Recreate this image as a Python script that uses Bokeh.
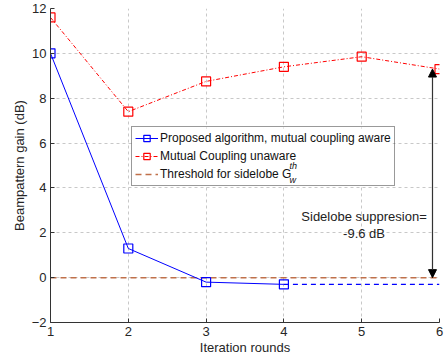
from bokeh.plotting import figure
from bokeh.models import Legend, LegendItem, Label, Arrow, NormalHead, FixedTicker, BoxAnnotation
from bokeh.embed import file_html
from bokeh.resources import INLINE

iterations = [1, 2, 3, 4, 5, 6]
proposed_x = [1, 2, 3, 4]
proposed_y = [10.0, 1.3, -0.2, -0.3]
ext_x = [4, 6]
ext_y = [-0.3, -0.3]
unaware_y = [11.6, 7.4, 8.75, 9.4, 9.85, 9.3]
thr_x = [1, 6]
thr_y = [0, 0]
x_ticks = [1, 2, 3, 4, 5, 6]
y_ticks = [-2, 0, 2, 4, 6, 8, 10, 12]

FONT = "Liberation Sans"
BLUE = "#0000ff"
RED = "#ff0000"
BROWN = "#c0704a"

p = figure(width=444, height=358, output_backend="svg", toolbar_location=None,
           x_range=(1, 6), y_range=(-2, 12),
           min_border_left=50, min_border_right=5, min_border_top=8, min_border_bottom=36)
p.outline_line_color = None
p.background_fill_color = "white"

for ax in (p.xaxis[0], p.yaxis[0]):
    ax.major_tick_in = 4
    ax.major_tick_out = 0
    ax.minor_tick_line_color = None
    ax.major_label_text_font = FONT
    ax.major_label_text_font_size = "13px"
    ax.major_label_text_color = "#262626"
    ax.axis_line_color = "#333333"
    ax.major_tick_line_color = "#333333"
    ax.axis_label_text_font = FONT
    ax.axis_label_text_font_size = "13px"
    ax.axis_label_text_font_style = "normal"
    ax.axis_label_text_color = "#262626"

p.xaxis.ticker = FixedTicker(ticks=x_ticks)
p.yaxis.ticker = FixedTicker(ticks=y_ticks)
p.xaxis.axis_label = "Iteration rounds"
p.yaxis.axis_label = "Beampattern gain (dB)"
p.xaxis.major_label_standoff = 4
p.xaxis.axis_label_standoff = 1
p.yaxis.major_label_standoff = 4
p.yaxis.axis_label_standoff = 2

p.xgrid.grid_line_color = "#c8c8c8"
p.ygrid.grid_line_color = "#c8c8c8"
p.xgrid.grid_line_dash = "3 3"
p.ygrid.grid_line_dash = "3 3"

thr = p.line(thr_x, thr_y, line_color=BROWN, line_width=1.5, line_dash="6 4")
b_line = p.line(proposed_x, proposed_y, line_color=BLUE, line_width=1)
b_ext = p.line(ext_x, ext_y, line_color=BLUE, line_width=1.2, line_dash="5 4")
b_mark = p.scatter(proposed_x, proposed_y, marker="square", size=9,
                   fill_color=None, line_color=BLUE, line_width=1.2)
r_line = p.line(iterations, unaware_y, line_color=RED, line_width=1, line_dash="4 2 1 2")
r_mark = p.scatter(iterations, unaware_y, marker="square", size=9,
                   fill_color=None, line_color=RED, line_width=1.2)

arrow = Arrow(x_start=5.91, y_start=0, x_end=5.91, y_end=9.3,
              start=NormalHead(size=8, fill_color="black", line_color="black"),
              end=NormalHead(size=8, fill_color="black", line_color="black"),
              line_color="#333333", line_width=1.2)
p.add_layout(arrow)

for txt, yv in (("Sidelobe suppresion=", 2.73), ("-9.6 dB", 1.96)):
    p.add_layout(Label(x=5.03, y=yv, text=txt, text_align="center", text_baseline="middle",
                       text_font=FONT, text_font_size="13px", text_color="#222222"))

# white backdrop behind the (transparent) legend so the sub/superscript can sit on top
p.add_layout(BoxAnnotation(left=82, right=342, bottom=137, top=194,
                           left_units="screen", right_units="screen",
                           bottom_units="screen", top_units="screen",
                           fill_color="white", fill_alpha=1, line_color=None,
                           level="annotation"))

legend = Legend(items=[
    LegendItem(label="Proposed algorithm, mutual coupling aware", renderers=[b_line, b_mark]),
    LegendItem(label="Mutual Coupling unaware", renderers=[r_line, r_mark]),
    LegendItem(label="Threshold for sidelobe G", renderers=[thr]),
], location=(81, 136))
legend.label_text_font = FONT
legend.label_text_font_size = "12px"
legend.label_text_color = "#111111"
legend.glyph_width = 23
legend.glyph_height = 16
legend.label_height = 16
legend.spacing = 2
legend.padding = 3
legend.margin = 0
legend.label_standoff = 2
legend.border_line_color = "#333333"
legend.border_line_width = 1
legend.background_fill_alpha = 0
p.add_layout(legend)

p.add_layout(Label(x=239, y=157, x_units="screen", y_units="screen", text="th",
                   text_baseline="middle",
                   text_font=FONT, text_font_size="9px", text_font_style="italic",
                   text_color="#111111"))
p.add_layout(Label(x=239, y=143, x_units="screen", y_units="screen", text="w",
                   text_baseline="middle",
                   text_font=FONT, text_font_size="9px", text_font_style="italic",
                   text_color="#111111"))

open("out.html", "w").write(file_html(p, INLINE))
